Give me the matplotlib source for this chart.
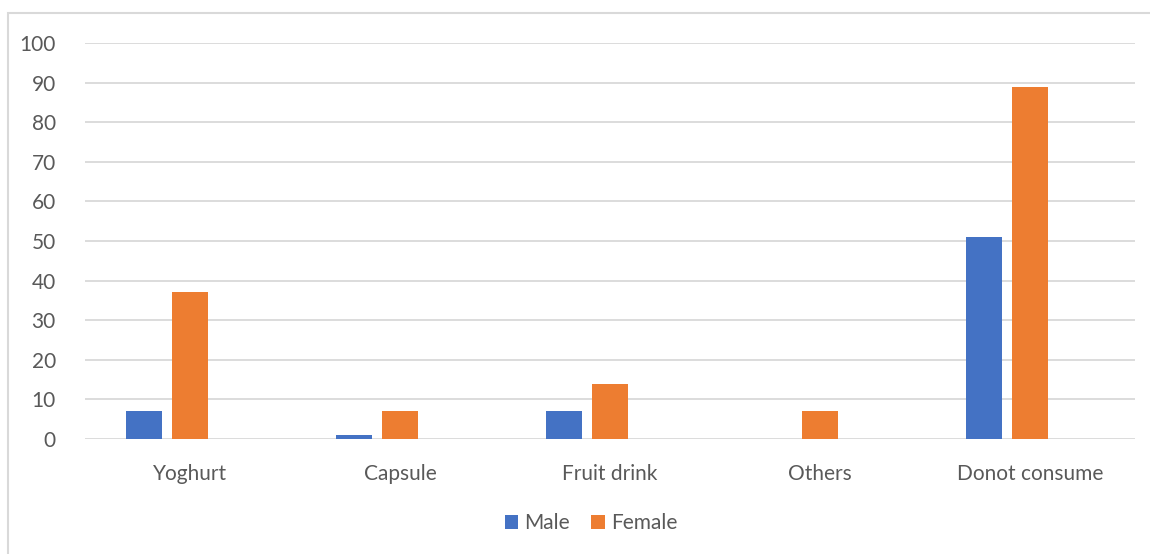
import matplotlib.pyplot as plt
import numpy as np
from matplotlib.patches import Rectangle

categories = ["Yoghurt", "Capsule", "Fruit drink", "Others", "Donot consume"]
male = [7, 1, 7, 0, 51]
female = [37, 7, 14, 7, 89]
yticks = [0, 10, 20, 30, 40, 50, 60, 70, 80, 90, 100]

plt.rcParams['font.family'] = ['Lato', 'DejaVu Sans']

W, H = 1150, 554
fig = plt.figure(figsize=(W / 100, H / 100), dpi=100)

# chart frame
fig.patches.append(Rectangle((8 / W, -0.1), 1.2, (H - 13) / H + 0.1,
                             transform=fig.transFigure, fill=False,
                             edgecolor='#d9d9d9', linewidth=1.5, zorder=0))

ax = fig.add_axes([85 / W, (H - 439) / H, (1135 - 85) / W, (439 - 43) / H])
x = np.arange(len(categories))
bw = 36 / 210
gap = 10 / 210
# clustered slots of three; the third slot stays empty
ax.bar(x - (bw + gap), male, bw, color='#4472c4', label='Male', zorder=3)
ax.bar(x, female, bw, color='#ed7d31', label='Female', zorder=3)

ax.set_xlim(-0.5, len(categories) - 0.5)
ax.set_ylim(0, 100)
ax.set_yticks(yticks)
ax.set_xticks(x)
ax.set_xticklabels(categories)
ax.grid(axis='y', color='#d9d9d9', linewidth=1.3, zorder=0)
for s in ax.spines.values():
    s.set_visible(False)
ax.tick_params(axis='both', length=0, colors='#595959', labelsize=15)
ax.tick_params(axis='y', pad=21)
ax.tick_params(axis='x', pad=18)

fig.legend(loc='center', bbox_to_anchor=(591 / W, (H - 523) / H), ncol=2,
           frameon=False, fontsize=15, handlelength=0.65, handleheight=0.65,
           handletextpad=0.3, columnspacing=1.0, labelcolor='#595959')

fig.savefig('out.png', dpi=100)
